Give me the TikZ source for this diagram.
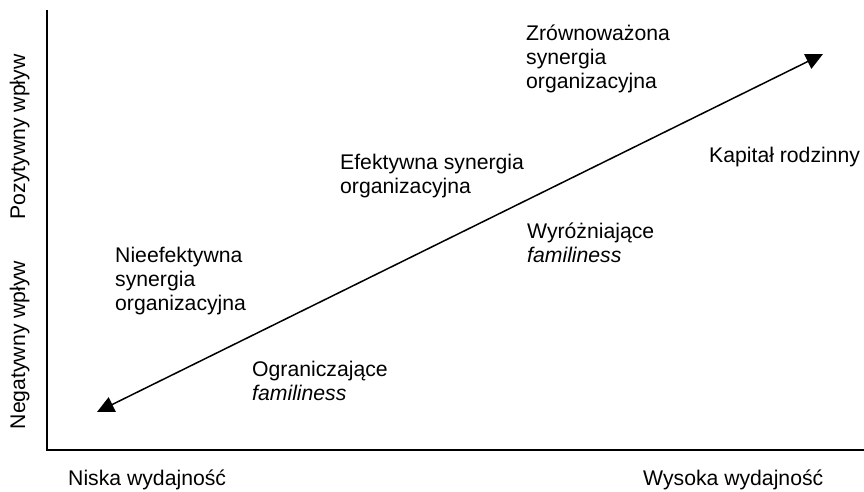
\documentclass[tikz,border=0pt]{standalone}
\usepackage{fontspec}
\setmainfont{Liberation Sans}
\usetikzlibrary{arrows.meta}
\begin{document}
\begin{tikzpicture}[x=1pt,y=-1pt,
  lbl/.style={anchor=base west,inner sep=0pt,font=\fontsize{21.2}{24}\selectfont},
  axislbl/.style={anchor=base,inner sep=0pt,rotate=90,font=\fontsize{21.2}{24}\selectfont},
  axisline/.style={line width=1.6pt},
  trend/.style={line width=1.5pt,{Triangle[length=17pt,width=16pt]}-{Triangle[length=17pt,width=16pt]}}]
\useasboundingbox (0,0) rectangle (864,491);
\newcommand{\ml}[1]{\renewcommand{\arraystretch}{1}\begin{tabular}[t]{@{}l@{}}#1\end{tabular}}
% axes
\coordinate (top) at (47,10);
\coordinate (origin) at (47,450);
\coordinate (right) at (864,450);
\draw[axisline] (top) -- (origin) -- (right);
% trend arrow
\coordinate (lo) at (97,412);
\coordinate (hi) at (823,54);
\draw[trend] (lo) -- (hi);
% axis labels
\node[axislbl] (pos) at (25,137) {Pozytywny wpływ};
\node[axislbl] (neg) at (25,345) {Negatywny wpływ};
\node[lbl] (low) at (68,485) {Niska wydajność};
\node[lbl] (high) at (643,485) {Wysoka wydajność};
% region labels
\node[lbl] (ineff) at (115,262) {\ml{Nieefektywna\\synergia\\organizacyjna}};
\node[lbl] (eff) at (340,169) {\ml{Efektywna synergia\\organizacyjna}};
\node[lbl] (bal) at (526,40) {\ml{Zrównoważona\\synergia\\organizacyjna}};
\node[lbl] (cap) at (709,162) {Kapitał rodzinny};
\node[lbl] (dist) at (527,238) {\ml{Wyróżniające\\\textit{familiness}}};
\node[lbl] (lim) at (252,376) {\ml{Ograniczające\\\textit{familiness}}};
\end{tikzpicture}
\end{document}
